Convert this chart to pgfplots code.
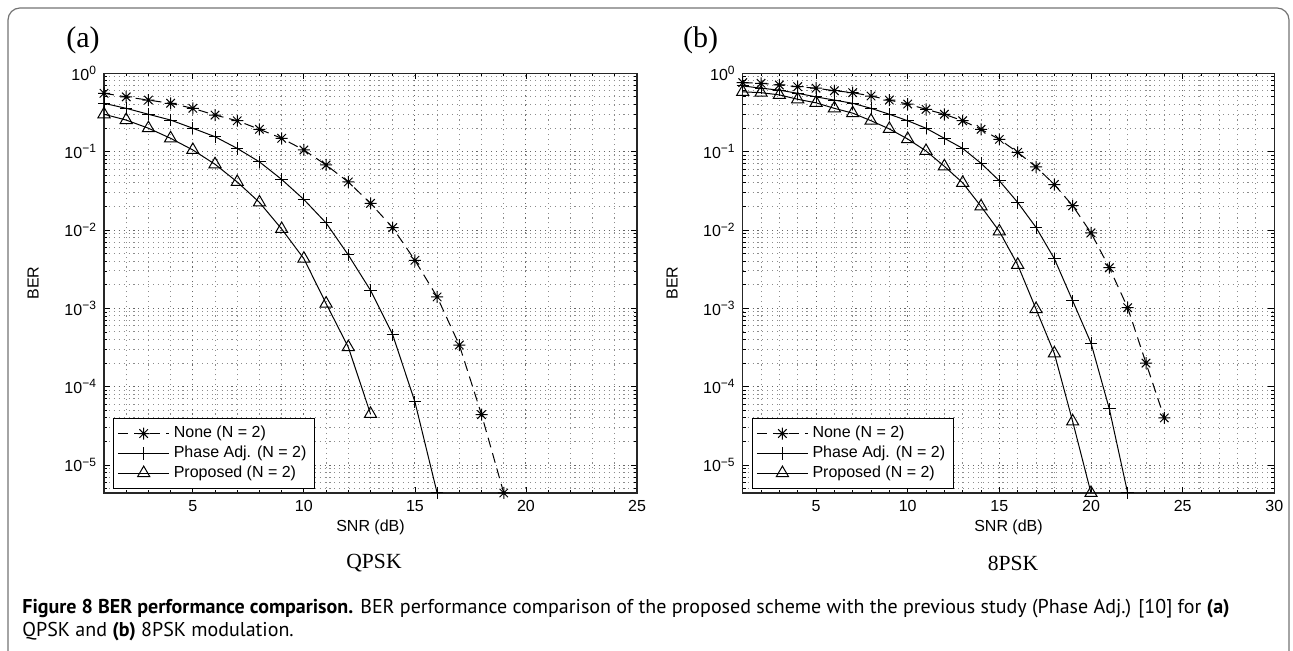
\documentclass[border=0pt]{standalone}
\usepackage{fontspec}
\setmainfont{Liberation Sans}
\newfontfamily\seriffont{Liberation Serif}
\newfontfamily\capfont{PT Sans}
\usepackage{pgfplots}
\pgfplotsset{compat=1.18}

\pgfdeclareplotmark{mstar}{%
 \pgfpathmoveto{\pgfqpoint{-\pgfplotmarksize}{0pt}}\pgfpathlineto{\pgfqpoint{\pgfplotmarksize}{0pt}}%
 \pgfpathmoveto{\pgfqpoint{0pt}{-\pgfplotmarksize}}\pgfpathlineto{\pgfqpoint{0pt}{\pgfplotmarksize}}%
 \pgfpathmoveto{\pgfqpoint{-0.707\pgfplotmarksize}{-0.707\pgfplotmarksize}}\pgfpathlineto{\pgfqpoint{0.707\pgfplotmarksize}{0.707\pgfplotmarksize}}%
 \pgfpathmoveto{\pgfqpoint{-0.707\pgfplotmarksize}{0.707\pgfplotmarksize}}\pgfpathlineto{\pgfqpoint{0.707\pgfplotmarksize}{-0.707\pgfplotmarksize}}%
 \pgfusepathqstroke}

\pgfplotsset{
  legend image code/.code={\draw[mark repeat=2,mark phase=2,#1] plot coordinates {(0cm,0cm) (0.45cm,0cm) (0.9cm,0cm)};},
  every axis plot/.append style={line width=0.5pt, black},
  snone/.style={dash pattern=on 5pt off 3pt, mark=mstar, mark size=3pt, mark options={solid}},
  sphase/.style={solid, mark=+, mark size=3.1pt},
  sprop/.style={solid, mark=triangle, mark size=3.5pt, mark options={solid, fill=white}},
  every axis/.append style={
    scale only axis, anchor=south west,
    height=209.85pt,
    ytick={1e-5,1e-4,1e-3,1e-2,1e-1,1},
    yticklabels={10\textsuperscript{−5},10\textsuperscript{−4},10\textsuperscript{−3},10\textsuperscript{−2},10\textsuperscript{−1},10\textsuperscript{0}},
    minor ytick={5e-6,6e-6,7e-6,8e-6,9e-6,
      2e-5,3e-5,4e-5,5e-5,6e-5,7e-5,8e-5,9e-5,
      2e-4,3e-4,4e-4,5e-4,6e-4,7e-4,8e-4,9e-4,
      2e-3,3e-3,4e-3,5e-3,6e-3,7e-3,8e-3,9e-3,
      2e-2,3e-2,4e-2,5e-2,6e-2,7e-2,8e-2,9e-2,
      0.2,0.3,0.4,0.5,0.6,0.7,0.8,0.9},
    grid=both,
    major grid style={line width=0.5pt, dash pattern=on 0.55pt off 1.9pt, black!60},
    minor grid style={line width=0.5pt, dash pattern=on 0.55pt off 1.9pt, black!45},
    tick align=inside, major tick length=3pt, minor tick length=1.6pt,
    tick style={black, line width=0.4pt},
    axis line style={line width=0.7pt, black!85},
    tick label style={font=\fontsize{8}{9}\selectfont},
    label style={font=\fontsize{8}{9}\selectfont},
    xlabel style={at={(axis description cs:0.5,0)}, anchor=center, yshift=-17pt},
    ylabel style={at={(axis description cs:-0.133,0.5)}, anchor=center},
    legend cell align=left,
    legend style={at={(0,0)}, anchor=south west, xshift=4.5pt, yshift=2pt,
      font=\fontsize{8}{9.5}\selectfont, draw=black, line width=0.6pt,
      inner sep=2pt, row sep=-1.4pt},
  },
}

\begin{document}
\begin{tikzpicture}
\path[use as bounding box] (0,0) rectangle (646.5pt,325.5pt);
\draw[black!55, line width=0.6pt, rounded corners=6pt] (4pt,-2pt) -- (4pt,321.5pt) -- (644.5pt,321.5pt) -- (644.5pt,-2pt);

\begin{axis}[ymode=log, ymin=4.4e-6, ymax=1, at={(52pt,79pt)}, width=266.5pt,
  xmin=1, xmax=25, xtick={5,10,15,20,25}, xticklabels={5,10,15,20,25}, minor xtick={1,2,...,25},
  xlabel={SNR (dB)}, ylabel={BER}]
\addplot[snone] coordinates {(1,0.556) (2,0.50) (3,0.455) (4,0.414) (5,0.357) (6,0.293) (7,0.248) (8,0.193) (9,0.148) (10,0.105) (11,0.0676) (12,0.041) (13,0.0219) (14,0.0107) (15,0.0041) (16,0.0014) (17,3.4e-4) (18,4.4e-5) (19,4.4e-6)};
\addlegendentry{None (N = 2)}
\addplot[sphase] coordinates {(1,0.414) (2,0.357) (3,0.30) (4,0.253) (5,0.199) (6,0.155) (7,0.110) (8,0.074) (9,0.0442) (10,0.0245) (11,0.0123) (12,0.0048) (13,0.0017) (14,4.6e-4) (15,6.4e-5) (16,4.4e-6)};
\addlegendentry{Phase Adj. (N = 2)}
\addplot[sprop] coordinates {(1,0.30) (2,0.253) (3,0.199) (4,0.148) (5,0.105) (6,0.069) (7,0.041) (8,0.0225) (9,0.0103) (10,0.0043) (11,0.00115) (12,3.2e-4) (13,4.5e-5)};
\addlegendentry{Proposed (N = 2)}
\end{axis}

\begin{axis}[ymode=log, ymin=4.4e-6, ymax=1, at={(371.35pt,79pt)}, width=265.8pt,
  xmin=1, xmax=30, xtick={5,10,15,20,25,30}, xticklabels={5,10,15,20,25,30}, minor xtick={1,2,...,30},
  xlabel={SNR (dB)}, ylabel={BER}]
\addplot[snone] coordinates {(1,0.76) (2,0.745) (3,0.71) (4,0.675) (5,0.645) (6,0.60) (7,0.566) (8,0.513) (9,0.455) (10,0.405) (11,0.347) (12,0.30) (13,0.248) (14,0.193) (15,0.1435) (16,0.098) (17,0.064) (18,0.038) (19,0.0204) (20,0.0092) (21,0.0033) (22,0.00102) (23,2.0e-4) (24,4.0e-5)};
\addlegendentry{None (N = 2)}
\addplot[sphase] coordinates {(1,0.69) (2,0.645) (3,0.61) (4,0.555) (5,0.50) (6,0.455) (7,0.414) (8,0.357) (9,0.30) (10,0.248) (11,0.199) (12,0.148) (13,0.110) (14,0.071) (15,0.0425) (16,0.0225) (17,0.0108) (18,0.0043) (19,0.00125) (20,3.6e-4) (21,5.2e-5) (22,4.4e-6)};
\addlegendentry{Phase Adj. (N = 2)}
\addplot[sprop] coordinates {(1,0.58) (2,0.566) (3,0.53) (4,0.466) (5,0.42) (6,0.357) (7,0.31) (8,0.248) (9,0.195) (10,0.145) (11,0.102) (12,0.065) (13,0.040) (14,0.020) (15,0.0096) (16,0.0036) (17,9.8e-4) (18,2.66e-4) (19,3.6e-5) (20,4.4e-6)};
\addlegendentry{Proposed (N = 2)}
\end{axis}

\node[font=\seriffont\fontsize{15}{15}\selectfont] at (41.5pt,305.5pt) {(a)};
\node[font=\seriffont\fontsize{15}{15}\selectfont] at (350.25pt,305.5pt) {(b)};
\node[font=\seriffont\fontsize{10.8}{12}\selectfont] at (187pt,44pt) {QPSK};
\node[font=\seriffont\fontsize{10.8}{12}\selectfont] at (506.5pt,44pt) {8PSK};
\node[anchor=west, inner sep=0pt, font=\capfont\fontsize{10}{11}\selectfont] at (11pt,21pt) {\textbf{Figure 8 BER performance comparison.} BER performance comparison of the proposed scheme with the previous study (Phase Adj.) [10] for \textbf{(a)}};
\node[anchor=west, inner sep=0pt, font=\capfont\fontsize{10}{11}\selectfont] at (11pt,9.5pt) {QPSK and \textbf{(b)} 8PSK modulation.};
\end{tikzpicture}
\end{document}
